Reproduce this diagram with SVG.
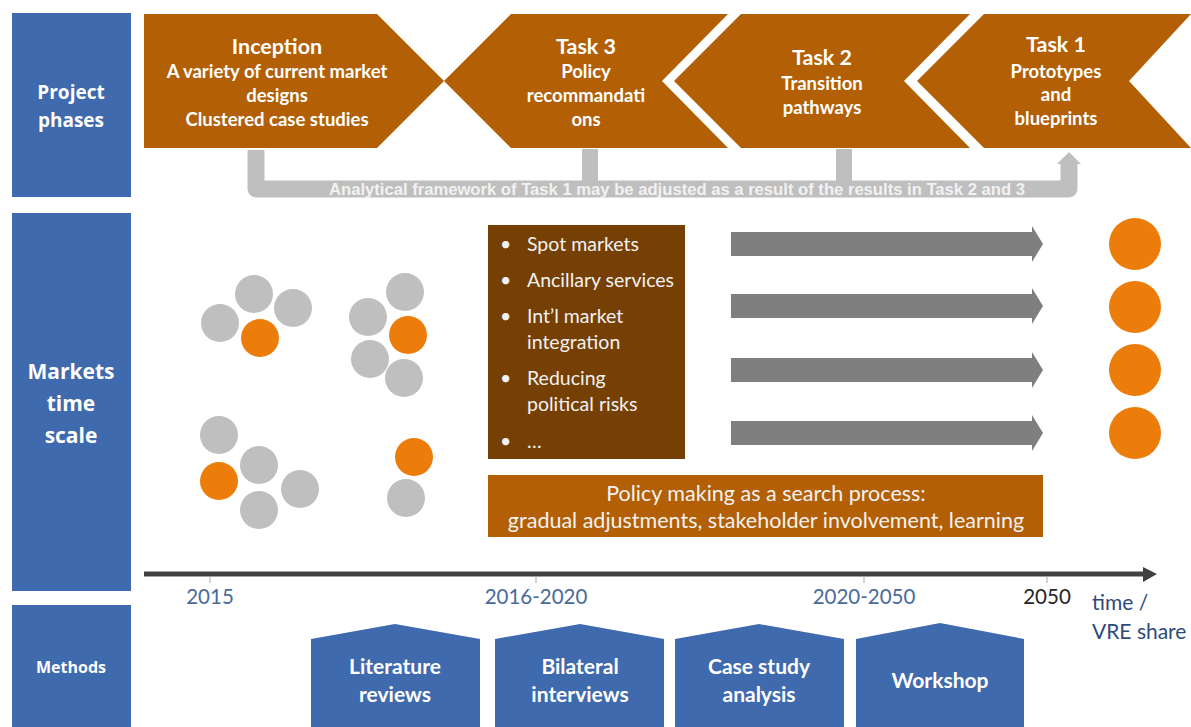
<svg xmlns="http://www.w3.org/2000/svg" width="1191" height="727" viewBox="0 0 1191 727">
<style>
.blue{fill:#3F6AAE}
.brown{fill:#B35F05}
.dbrown{fill:#763F03}
.gray{fill:#BFBFBF}
.org{fill:#ED7D0B}
.arr{fill:#7F7F7F}
.lbl{font-family:"Open Sans","DejaVu Sans",sans-serif;font-weight:bold;fill:#FFFFFF;text-anchor:middle}
.ch{font-family:Lato,"Liberation Sans",sans-serif;font-weight:bold;fill:#FFFFFF;text-anchor:middle}
.cht{font-size:21.5px}
.chs{font-size:18.5px}
.lt{font-family:Lato,"Liberation Sans",sans-serif;fill:#F2F2F2}
.yr{font-family:Lato,"Liberation Sans",sans-serif;font-size:20.5px;fill:#4A6A9C;text-anchor:middle}
.mt{font-family:Lato,"Liberation Sans",sans-serif;font-weight:bold;font-size:21px;fill:#FFFFFF;text-anchor:middle}
</style>
<rect width="1191" height="727" fill="#FFFFFF"/>

<g id="row-labels">
  <g id="label-project-phases">
    <rect class="blue" x="12" y="13" width="119" height="184"/>
    <text class="lbl" font-size="19" x="71" y="99">Project</text>
    <text class="lbl" font-size="19" x="71" y="127">phases</text>
  </g>
  <g id="label-markets">
    <rect class="blue" x="12" y="213" width="119" height="378"/>
    <text class="lbl" font-size="21" x="71" y="379">Markets</text>
    <text class="lbl" font-size="21" x="71" y="411">time</text>
    <text class="lbl" font-size="21" x="71" y="443">scale</text>
  </g>
  <g id="label-methods">
    <rect class="blue" x="12" y="605" width="119" height="122"/>
    <text class="lbl" font-size="16" x="71" y="673">Methods</text>
  </g>
</g>

<g id="connectors">
  <g id="feedback-bar">
    <path d="M256 150 V189 H1069 V163" fill="none" stroke="#BFBFBF" stroke-width="17" stroke-linejoin="round"/>
    <rect class="gray" x="582" y="149" width="16" height="36"/>
    <rect class="gray" x="836" y="149" width="16" height="36"/>
    <polygon class="gray" points="1057,164 1069,152 1081,164"/>
    <text x="329" y="195" textLength="696" lengthAdjust="spacingAndGlyphs" font-family="'Liberation Sans',Arial,sans-serif" font-weight="bold" font-size="16" fill="#F2F2F2">Analytical framework of Task 1 may be adjusted as a result of the results in  Task 2 and 3</text>
  </g>
  <g id="gray-arrows">
    <polygon class="arr" points="731,232 1032,232 1032,226 1043,244 1032,262 1032,256 731,256"/>
    <polygon class="arr" points="731,294 1032,294 1032,288 1043,306 1032,324 1032,318 731,318"/>
    <polygon class="arr" points="731,358 1032,358 1032,352 1043,370 1032,388 1032,382 731,382"/>
    <polygon class="arr" points="731,421 1032,421 1032,415 1043,433 1032,451 1032,445 731,445"/>
  </g>
  <g id="time-axis">
    <line x1="144" y1="574" x2="1145" y2="574" stroke="#404040" stroke-width="5"/>
    <polygon points="1143,567 1157,574 1143,582" fill="#404040"/>
    <g stroke="#A6A6A6" stroke-width="1">
      <line x1="210" y1="576" x2="210" y2="583"/>
      <line x1="536" y1="576" x2="536" y2="583"/>
      <line x1="864" y1="576" x2="864" y2="583"/>
      <line x1="1047" y1="576" x2="1047" y2="583"/>
    </g>
  </g>
</g>

<g id="phase-inception">
  <polygon class="brown" points="144,14 377,14 444,81 377,148 144,148"/>
  <text class="ch cht" x="277" y="54">Inception</text>
  <text class="ch chs" x="277" y="78">A variety of current market</text>
  <text class="ch chs" x="277" y="102">designs</text>
  <text class="ch chs" x="277" y="126">Clustered case studies</text>
</g>
<g id="phase-task3">
  <polygon class="brown" points="444,81 511,14 728,14 662,81 728,148 511,148"/>
  <text class="ch cht" x="586" y="54">Task 3</text>
  <text class="ch chs" x="586" y="78">Policy</text>
  <text class="ch chs" x="586" y="102">recommandati</text>
  <text class="ch chs" x="586" y="126">ons</text>
</g>
<g id="phase-task2">
  <polygon class="brown" points="674,81 741,14 970,14 904,81 970,148 741,148"/>
  <text class="ch cht" x="822" y="65">Task 2</text>
  <text class="ch chs" x="822" y="90">Transition</text>
  <text class="ch chs" x="822" y="114">pathways</text>
</g>
<g id="phase-task1">
  <polygon class="brown" points="917,81 984,14 1191,14 1129,81 1191,148 984,148"/>
  <text class="ch cht" x="1056" y="52">Task 1</text>
  <text class="ch chs" x="1056" y="78">Prototypes</text>
  <text class="ch chs" x="1056" y="101">and</text>
  <text class="ch chs" x="1056" y="125">blueprints</text>
</g>

<g id="clusters">
  <circle class="gray" cx="220" cy="323" r="19"/>
  <circle class="gray" cx="254" cy="294" r="19"/>
  <circle class="gray" cx="293" cy="308" r="19"/>
  <circle class="org" cx="260" cy="338" r="19"/>

  <circle class="gray" cx="405" cy="292" r="19"/>
  <circle class="gray" cx="368" cy="317" r="19"/>
  <circle class="org" cx="408" cy="335" r="19"/>
  <circle class="gray" cx="370" cy="359" r="19"/>
  <circle class="gray" cx="404" cy="378" r="19"/>

  <circle class="gray" cx="219" cy="435" r="19"/>
  <circle class="gray" cx="259" cy="465" r="19"/>
  <circle class="org" cx="219" cy="481" r="19"/>
  <circle class="gray" cx="300" cy="489" r="19"/>
  <circle class="gray" cx="259" cy="510" r="19"/>

  <circle class="org" cx="414" cy="457" r="19"/>
  <circle class="gray" cx="406" cy="498" r="19"/>
</g>

<g id="market-list">
  <rect class="dbrown" x="488" y="225" width="197" height="234"/>
  <g class="lt" font-size="19.5">
    <text x="500" y="251">•</text><text x="527" y="251">Spot markets</text>
    <text x="500" y="287">•</text><text x="527" y="287">Ancillary services</text>
    <text x="500" y="323">•</text><text x="527" y="323">Int’l market</text>
    <text x="527" y="349">integration</text>
    <text x="500" y="385">•</text><text x="527" y="385">Reducing</text>
    <text x="527" y="411">political risks</text>
    <text x="500" y="448">•</text><text x="527" y="448">…</text>
  </g>
</g>

<g id="policy-box">
  <rect class="brown" x="488" y="475" width="555" height="62"/>
  <text class="lt" font-size="21.5" x="766" y="501" text-anchor="middle">Policy making as a search process:</text>
  <text class="lt" font-size="21.5" x="766" y="528" text-anchor="middle">gradual adjustments, stakeholder involvement, learning</text>
</g>

<g id="outcomes">
  <circle class="org" cx="1135" cy="244" r="26"/>
  <circle class="org" cx="1135" cy="307" r="26"/>
  <circle class="org" cx="1135" cy="370" r="26"/>
  <circle class="org" cx="1135" cy="433" r="26"/>
</g>

<g id="time-labels">
  <text class="yr" x="210" y="604">2015</text>
  <text class="yr" x="536" y="604">2016-2020</text>
  <text class="yr" x="864" y="604">2020-2050</text>
  <text class="yr" x="1047" y="604" style="fill:#262626">2050</text>
  <text x="1092" y="610" font-family="Lato,'Liberation Sans',sans-serif" font-size="21" fill="#2E4A7A">time /</text>
  <text x="1092" y="639" font-family="Lato,'Liberation Sans',sans-serif" font-size="21" fill="#2E4A7A">VRE share</text>
</g>

<g id="method-literature">
  <polygon class="blue" points="311,639 395,624 480,639 480,727 311,727"/>
  <text class="mt" x="395" y="674">Literature</text>
  <text class="mt" x="395" y="702">reviews</text>
</g>
<g id="method-interviews">
  <polygon class="blue" points="495,639 580,624 664,639 664,727 495,727"/>
  <text class="mt" x="580" y="674">Bilateral</text>
  <text class="mt" x="580" y="702">interviews</text>
</g>
<g id="method-casestudy">
  <polygon class="blue" points="675,639 759,624 844,639 844,727 675,727"/>
  <text class="mt" x="759" y="674">Case study</text>
  <text class="mt" x="759" y="702">analysis</text>
</g>
<g id="method-workshop">
  <polygon class="blue" points="856,639 940,623 1024,639 1024,727 856,727"/>
  <text class="mt" x="940" y="688">Workshop</text>
</g>
</svg>
